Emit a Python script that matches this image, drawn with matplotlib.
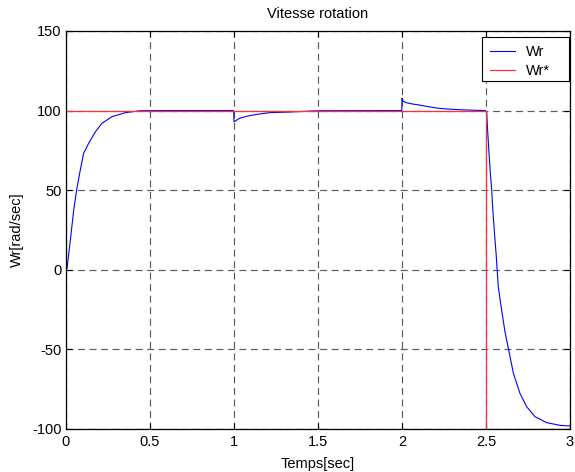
import matplotlib
matplotlib.use("Agg")
import matplotlib.pyplot as plt
from matplotlib.patches import Rectangle

t_wr = [0.0, 0.006, 0.026, 0.046, 0.065, 0.085, 0.105, 0.135, 0.175, 0.214, 0.274,
        0.353, 0.442, 0.6, 0.998, 1.0, 1.034, 1.07, 1.113, 1.16, 1.212, 1.27, 1.33, 1.5,
        1.999, 2.0, 2.006, 2.024, 2.06, 2.103, 2.16, 2.222, 2.3, 2.381, 2.497,
        2.504, 2.51, 2.518, 2.526, 2.534, 2.54, 2.552, 2.56, 2.573, 2.593, 2.613, 2.633,
        2.663, 2.702, 2.742, 2.792, 2.861, 2.94, 3.0]
wr = [0.0, 0.9, 18.7, 37.6, 51.2, 62.7, 73.2, 79.5, 86.7, 92.0, 96.2,
      98.7, 99.9, 100.0, 100.0, 93.0, 95.2, 96.3, 97.2, 98.0, 98.7, 98.9, 99.1, 99.9,
      100.0, 107.7, 106.0, 105.0, 104.2, 103.5, 102.4, 101.4, 100.8, 100.4, 100.0,
      99.0, 87.0, 73.0, 60.6, 50.1, 38.6, 20.8, 10.3, -10.6, -25.3, -38.9, -49.3,
      -65.0, -77.6, -86.0, -92.3, -96.0, -97.7, -98.1]

# Wr* (reference speed)
t_ref = [0.0, 2.5, 2.5, 3.0]
wr_ref = [100, 100, -100, -100]

x_ticks = [0, 0.5, 1, 1.5, 2, 2.5, 3]
x_tick_labels = ['0', '0.5', '1', '1.5', '2', '2.5', '3']
y_ticks = [-100, -50, 0, 50, 100, 150]

plt.rcParams['font.family'] = ['Liberation Sans', 'DejaVu Sans']
plt.rcParams['axes.unicode_minus'] = False
plt.rcParams['lines.scale_dashes'] = False

W, H = 575, 472
fig = plt.figure(figsize=(W / 100, H / 100), dpi=100)
ax = fig.add_axes([66 / W, 1 - 429 / H, (570 - 66) / W, (429 - 31) / H])

ax.plot(t_wr, wr, color='blue', lw=0.8, label='Wr')
ax.plot(t_ref, wr_ref, color='#ff3030', lw=0.9, label='Wr*')

ax.set_xlim(0, 3)
ax.set_ylim(-100, 150)
ax.set_xticks(x_ticks)
ax.set_xticklabels(x_tick_labels)
ax.set_yticks(y_ticks)
ax.tick_params(direction='in', top=True, right=True, labelsize=10.5, length=4, width=0.8)
ax.tick_params(axis='x', pad=4)
ax.tick_params(axis='y', pad=3)
ax.grid(True, color='#5a5a5a', linestyle=(0, (5, 3.3)), linewidth=0.85)
for s in ax.spines.values():
    s.set_linewidth(0.9)

ax.set_title('Vitesse rotation', fontsize=10.5, pad=9.5)
ax.set_xlabel('Temps[sec]', fontsize=10.5, labelpad=6)
ax.set_ylabel('Wr[rad/sec]', fontsize=10.5, labelpad=6)

# legend box (MATLAB-like, with extra room on the right)
x0, y0, x1, y1 = 481.7, 37.3, 569.0, 80.7
box = Rectangle((x0 / W, 1 - y1 / H), (x1 - x0) / W, (y1 - y0) / H,
                transform=fig.transFigure, facecolor='white',
                edgecolor='black', linewidth=0.8, zorder=5, clip_on=False)
ax.add_patch(box)
leg = ax.legend(loc='upper left', bbox_to_anchor=((x0 + 3) / W, 1 - (y0 + 3) / H),
                bbox_transform=fig.transFigure, fontsize=10.5, frameon=False,
                handlelength=1.75, handletextpad=0.75, borderpad=0.35,
                borderaxespad=0.0, labelspacing=0.32)
leg.set_zorder(6)

fig.savefig('out.png', dpi=100)
